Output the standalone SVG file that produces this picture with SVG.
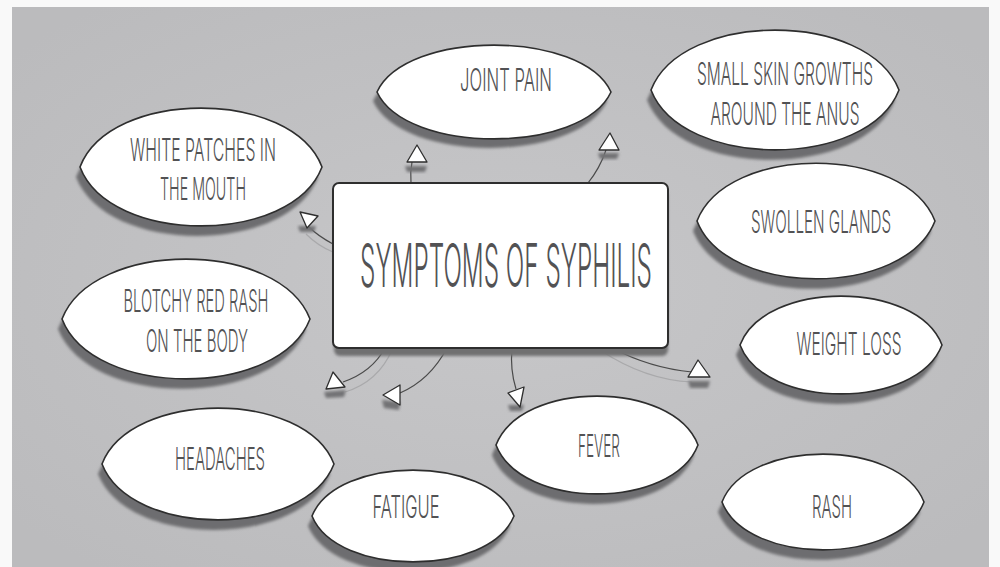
<svg xmlns="http://www.w3.org/2000/svg" width="1000" height="567" viewBox="0 0 1000 567">
<defs>
<radialGradient id="bg" cx="50%" cy="50%" r="65%">
<stop offset="0" stop-color="#c7c7c9"/>
<stop offset="1" stop-color="#bbbbbd"/>
</radialGradient>
<filter id="blur" x="-10%" y="-20%" width="120%" height="140%"><feGaussianBlur stdDeviation="1.6"/></filter>
<path id="L1" d="M-117 0C-88-62.5 88-62.5 117 0C88 62.5-88 62.5-117 0Z"/>
<path id="L2" d="M-124 0C-93-79.8 93-79.8 124 0C93 79.8-93 79.8-124 0Z"/>
<path id="L3" d="M-121 0C-91-78.5 91-78.5 121 0C91 78.5-91 78.5-121 0Z"/>
<path id="L4" d="M-119 0C-89-77.1 89-77.1 119 0C89 77.1-89 77.1-119 0Z"/>
<path id="L6" d="M-101 0C-76-65.2 76-65.2 101 0C76 65.2-76 65.2-101 0Z"/>
<path id="L7" d="M-116 0C-87-74.5 87-74.5 116 0C87 74.5-87 74.5-116 0Z"/>
<path id="L9" d="M-101 0C-76-61.2 76-61.2 101 0C76 61.2-76 61.2-101 0Z"/>
<path id="L10" d="M-101 0C-76-63.8 76-63.8 101 0C76 63.8-76 63.8-101 0Z"/>
</defs>
<style>
.sh{fill:#6d6d6f;filter:url(#blur)}
.nd{fill:#ffffff;stroke:#2e2e2e;stroke-width:1.6}
.lb{font-family:Inter,"Open Sans","Liberation Sans",sans-serif;font-weight:300;font-size:31px;fill:#525254;text-anchor:middle}
.ttl{font-size:60px}
.cn{fill:none;stroke:#4a4a4a;stroke-width:1.2}
.cf{fill:none;stroke:#a9a9ab;stroke-width:1.2}
.ar{fill:#ffffff;stroke:#2e2e2e;stroke-width:1.3;stroke-linejoin:round}
.as{fill:#727274;filter:url(#blur)}
</style>
<rect x="0" y="0" width="1000" height="567" fill="#f9f9f9"/>
<rect x="12" y="7" width="977" height="560" fill="url(#bg)"/>

<g id="connectors">
<path class="cf" d="M 333 252 Q 318 246 306 234"/>
<path class="cf" d="M 392 350 Q 378 382 345 392"/>
<path class="cf" d="M 600 350 Q 645 380 692 382"/>
<path class="cn" d="M 411 183 Q 410 172 412 162"/>
<path class="cn" d="M 588 183 Q 600 168 606 150"/>
<path class="cn" d="M 333 244 Q 318 236 309 227"/>
<path class="cn" d="M 385 348 Q 372 372 343 382"/>
<path class="cn" d="M 447 348 Q 430 380 400 393"/>
<path class="cn" d="M 512 348 Q 510 370 516 389"/>
<path class="cn" d="M 612 348 Q 650 368 692 372"/>
<polygon class="as" points="405,166 427,166 425,172 407,172"/>
<polygon class="as" points="598,153 619,153 617,159 600,159"/>
<polygon class="as" points="298,226 316,226 314,232 300,232"/>
<polygon class="as" points="324,392 346,390 344,397 326,398"/>
<polygon class="as" points="382,400 400,402 399,410 384,408"/>
<polygon class="as" points="508,405 524,405 522,411 510,411"/>
<polygon class="as" points="688,381 710,381 708,388 690,388"/>
<polygon class="ar" points="417,145 407,162 427,162"/>
<polygon class="ar" points="610,133 599,150 619,150"/>
<polygon class="ar" points="300,212 318,216 307,228"/>
<polygon class="ar" points="333,372 345,387 326,389"/>
<polygon class="ar" points="400,385 383,395 400,405"/>
<polygon class="ar" points="508,393 524,387 520,407"/>
<polygon class="ar" points="698,360 688,377 710,377"/>
</g>

<g id="center">
<rect x="334" y="190" width="334" height="166" rx="6" fill="#6f6f71" filter="url(#blur)"/>
<rect x="333" y="183" width="335" height="165" rx="6" fill="#ffffff" stroke="#2e2e2e" stroke-width="2"/>
<text class="lb ttl" transform="translate(506,287) scale(0.42,1)" textLength="695" lengthAdjust="spacingAndGlyphs">SYMPTOMS OF SYPHILIS</text>
</g>

<g id="joint-pain">
<use href="#L1" class="sh" transform="translate(490,101)"/>
<use href="#L1" class="nd" transform="translate(494,92)"/>
<text class="lb" transform="translate(506,91) scale(0.5,1)" textLength="184" lengthAdjust="spacingAndGlyphs">JOINT PAIN</text>
</g>

<g id="skin-growths">
<use href="#L2" class="sh" transform="translate(771,100)"/>
<use href="#L2" class="nd" transform="translate(775,90)"/>
<text class="lb" transform="translate(785,85) scale(0.5,1)" textLength="352" lengthAdjust="spacingAndGlyphs">SMALL SKIN GROWTHS</text>
<text class="lb" transform="translate(785,125) scale(0.5,1)" textLength="298" lengthAdjust="spacingAndGlyphs">AROUND THE ANUS</text>
</g>

<g id="white-patches">
<use href="#L3" class="sh" transform="translate(197,177)"/>
<use href="#L3" class="nd" transform="translate(201,167)"/>
<text class="lb" transform="translate(203,161) scale(0.5,1)" textLength="292" lengthAdjust="spacingAndGlyphs">WHITE PATCHES IN</text>
<text class="lb" transform="translate(203,200) scale(0.5,1)" textLength="172" lengthAdjust="spacingAndGlyphs">THE MOUTH</text>
</g>

<g id="swollen-glands">
<use href="#L4" class="sh" transform="translate(812,231)"/>
<use href="#L4" class="nd" transform="translate(816,221)"/>
<text class="lb" transform="translate(821,233) scale(0.5,1)" textLength="280" lengthAdjust="spacingAndGlyphs">SWOLLEN GLANDS</text>
</g>

<g id="blotchy-rash">
<use href="#L2" class="sh" transform="translate(182,329)"/>
<use href="#L2" class="nd" transform="translate(186,319)"/>
<text class="lb" transform="translate(196,312) scale(0.5,1)" textLength="290" lengthAdjust="spacingAndGlyphs">BLOTCHY RED RASH</text>
<text class="lb" transform="translate(197,352) scale(0.5,1)" textLength="204" lengthAdjust="spacingAndGlyphs">ON THE BODY</text>
</g>

<g id="weight-loss">
<use href="#L6" class="sh" transform="translate(837,355)"/>
<use href="#L6" class="nd" transform="translate(841,345)"/>
<text class="lb" transform="translate(849,355) scale(0.5,1)" textLength="210" lengthAdjust="spacingAndGlyphs">WEIGHT LOSS</text>
</g>

<g id="headaches">
<use href="#L7" class="sh" transform="translate(214,474)"/>
<use href="#L7" class="nd" transform="translate(218,464)"/>
<text class="lb" transform="translate(220,470) scale(0.5,1)" textLength="180" lengthAdjust="spacingAndGlyphs">HEADACHES</text>
</g>

<g id="fever">
<use href="#L6" class="sh" transform="translate(593,455)"/>
<use href="#L6" class="nd" transform="translate(597,445)"/>
<text class="lb" transform="translate(599,457) scale(0.5,1)" textLength="84" lengthAdjust="spacingAndGlyphs">FEVER</text>
</g>

<g id="fatigue">
<use href="#L9" class="sh" transform="translate(409,526)"/>
<use href="#L9" class="nd" transform="translate(413,516)"/>
<text class="lb" transform="translate(406,518) scale(0.5,1)" textLength="134" lengthAdjust="spacingAndGlyphs">FATIGUE</text>
</g>

<g id="rash">
<use href="#L10" class="sh" transform="translate(819,512)"/>
<use href="#L10" class="nd" transform="translate(823,502)"/>
<text class="lb" transform="translate(832,518) scale(0.5,1)" textLength="80" lengthAdjust="spacingAndGlyphs">RASH</text>
</g>
</svg>
